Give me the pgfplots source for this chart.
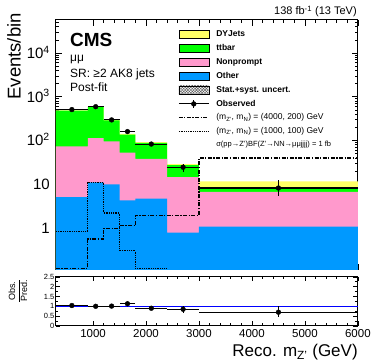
\documentclass[border=0pt]{standalone}
\usepackage{pgfplots}
\pgfplotsset{compat=1.18}
\usepackage{pgfplotstable}
\usepgfplotslibrary{fillbetween}
\usetikzlibrary{patterns.meta}
\usepackage{amsmath}
\usepackage{fontspec}
\setmainfont{Liberation Sans}

\definecolor{dyY}{RGB}{255,255,102}
\definecolor{ttG}{RGB}{0,255,0}
\definecolor{npP}{RGB}{255,153,204}
\definecolor{otB}{RGB}{0,153,255}

% stack tops (cumulative), bin low edges; last row repeats the last bin
\pgfplotstableread{
lo   other  nonpr  ttbar  dy    unclo  unchi
300  5.1    73     485    490   470    510
900  11     113    590    596   572    620
1200 10     95     288    292   280    304
1500 4.3    53     136    141   134    148
1800 4.7    38     88     92    87     97
2400 0.78   14.5   27.5   29    27.2   30.8
3000 1.07   6.7    8.6    11.7  10.4   13.2
6000 1.07   6.7    8.6    11.7  10.4   13.2
}\stack

\pgfplotstableread{
x    y     ex    eyp  eym
600  510   300   23   23
1050 593   150   24   24
1350 296   150   17   17
1650 160   150   13   13
2100 83    300   9    9
2700 24.5  300   5    5
4500 8.2   1500  4.1  2.9
}\obs

\pgfplotstableread{
x    r     ex    eyp   eym
600  1.04  300   0.05  0.05
1050 1.00  150   0.04  0.04
1350 1.01  150   0.06  0.06
1650 1.13  150   0.09  0.09
2100 0.90  300   0.10  0.10
2700 0.85  300   0.17  0.17
4500 0.70  1500  0.30  0.27
}\ratio

\pgfplotstableread{
x    lo     hi
300  0.96   1.04
900  0.96   1.04
1200 0.96   1.04
1500 0.95   1.05
1800 0.945  1.055
2400 0.94   1.06
3000 0.89   1.11
6000 0.89   1.11
}\rband

\pgfplotsset{
  legbox/.style={legend image code/.code={\fill[##1] (0pt,-4.25pt) rectangle (30pt,4.25pt);}},
  legline/.style={legend image code/.code={\draw[##1] (0pt,0pt) -- (30pt,0pt);}},
  legobs/.style={legend image code/.code={
      \draw[black, line width=1pt] (0pt,0pt) -- (30pt,0pt);
      \draw[black, line width=1pt] (15pt,-4pt) -- (15pt,4pt);
      \fill[black] (15pt,0pt) circle (2.4pt);}},
  dashdot/.style={dash pattern=on 4pt off 1.5pt on 1.2pt off 1.5pt},
  unc/.style={pattern={Hatch[angle=45, distance=2pt, line width=0.45pt]}, pattern color=black!65},
  cmsframe/.style={
    scale only axis, width=302pt,
    xmin=300, xmax=6000,
    axis line style={line width=1pt},
    every tick/.style={black, line width=0.7pt},
    xtick={1000,2000,3000,4000,5000,6000}, minor x tick num=4,
  },
}

\begin{document}
\begin{tikzpicture}

\begin{axis}[cmsframe,
  at={(56pt,-20pt)}, anchor=north west, height=250pt,
  ymode=log, log origin=infty, ymin=0.11, ymax=5.7e4,
  xticklabel=\empty,
  ytick={1,10,100,1000,10000},
  yticklabels={1,10,10\textsuperscript{2},10\textsuperscript{3},10\textsuperscript{4}},
  minor ytick={0.2,0.3,0.4,0.5,0.6,0.7,0.8,0.9,2,3,4,5,6,7,8,9,20,30,40,50,60,70,80,90,
    200,300,400,500,600,700,800,900,2000,3000,4000,5000,6000,7000,8000,9000,20000,30000,40000,50000},
  major tick length=6pt, minor tick length=3pt,
  yticklabel style={font=\fontsize{15}{15}\selectfont, anchor=base east, inner sep=0pt,
    xshift=-6pt, yshift=-5.4pt},
  ylabel={Events/bin},
  ylabel style={font=\fontsize{18.5}{18.5}\selectfont, at={(rel axis cs:-0.1159,1.028)},
    anchor=south east, inner sep=0pt},
  legend cell align=left,
  legend style={at={(rel axis cs:0.404,0.961)}, anchor=north west, draw=none, fill=none,
    inner sep=0pt, row sep=5pt, font=\fontsize{8.5}{9}\selectfont\bfseries,
    nodes={inner sep=0pt, text height=6.5pt, text depth=2pt},
    /tikz/every odd column/.append style={column sep=7pt}},
]
% stacked backgrounds, drawn from the total down
\addplot[const plot, fill=dyY, draw=none, forget plot] table[x=lo, y=dy] {\stack} \closedcycle;
\addplot[const plot, fill=ttG, draw=none, forget plot] table[x=lo, y=ttbar] {\stack} \closedcycle;
\addplot[const plot, fill=npP, draw=none, forget plot] table[x=lo, y=nonpr] {\stack} \closedcycle;
\addplot[const plot, fill=otB, draw=none, forget plot] table[x=lo, y=other] {\stack} \closedcycle;

% uncertainty band
\addplot[const plot, draw=none, name path=uup, forget plot] table[x=lo, y=unchi] {\stack};
\addplot[const plot, draw=none, name path=ulo, forget plot] table[x=lo, y=unclo] {\stack};
\addplot[unc, draw=none, forget plot] fill between[of=uup and ulo, on layer=main];

% signals
\addplot[const plot, black, line width=1.2pt, dashdot, forget plot] coordinates {
  (300,0.12) (900,0.56) (1200,0.99) (1500,1.13) (1800,1.97) (2400,1.97) (3000,40) (6000,40)};
\addplot[const plot, black, line width=1.2pt, dash pattern=on 1pt off 0.8pt, forget plot] coordinates {
  (300,0.82) (900,11) (1200,2.2) (1500,0.30) (1800,0.12) (2400,0.12)};

% data
\addplot[only marks, mark=*, mark size=2.4pt, black, forget plot,
  error bars/.cd, x dir=both, x explicit, y dir=both, y explicit, error mark=none,
  error bar style={line width=1.1pt, black}]
  table[x=x, y=y, x error=ex, y error plus=eyp, y error minus=eym] {\obs};

\addlegendimage{legbox, fill=dyY} \addlegendentry{DYJets}
\addlegendimage{legbox, fill=ttG} \addlegendentry{ttbar}
\addlegendimage{legbox, fill=npP} \addlegendentry{Nonprompt}
\addlegendimage{legbox, fill=otB} \addlegendentry{Other}
\addlegendimage{legbox, unc} \addlegendentry{Stat.+syst. uncert.}
\addlegendimage{legobs} \addlegendentry{Observed}
\addlegendimage{legline, black, line width=1.2pt, dashdot}
\addlegendentry{\mdseries (m\textsubscript{Z'}, m\textsubscript{N}) = (4000, 200) GeV}
\addlegendimage{legline, black, line width=1.2pt, dash pattern=on 1pt off 0.8pt}
\addlegendentry{\mdseries (m\textsubscript{Z'}, m\textsubscript{N}) = (1000, 100) GeV}
\addlegendimage{empty legend}
\addlegendentry{\mdseries\fontsize{7.5}{8}\selectfont σ(pp→Z')BF(Z'→NN→μμjjjj) = 1 fb}
\end{axis}

\begin{axis}[cmsframe,
  at={(56pt,-277pt)}, anchor=north west, height=49pt,
  ymin=0, ymax=2.5,
  xticklabels={1000,2000,3000,4000,5000,6000},
  ytick={0,0.5,1,1.5,2,2.5}, yticklabels={0,0.5,1,1.5,2,2.5}, minor y tick num=1,
  major tick length=4.5pt, minor tick length=2.5pt,
  xticklabel style={font=\fontsize{11.5}{11.5}\selectfont},
  yticklabel style={font=\fontsize{7.5}{7.5}\selectfont, inner sep=1.5pt},
  xlabel={Reco. m\textsubscript{Z'} (GeV)},
  xlabel style={font=\fontsize{17}{17}\selectfont, at={(rel axis cs:1,0)}, anchor=base east,
    yshift=-30.7pt, inner sep=0pt},
  ylabel={$\dfrac{\text{Obs.}}{\text{Pred.}}$},
  ylabel style={font=\fontsize{9}{9}\selectfont, at={(rel axis cs:-0.126,0.71)}, anchor=center},
]
\addplot[const plot, draw=none, name path=rup, forget plot] table[x=x, y=hi] {\rband};
\addplot[const plot, draw=none, name path=rlo, forget plot] table[x=x, y=lo] {\rband};
\addplot[unc, draw=none, forget plot] fill between[of=rup and rlo, on layer=main];
\addplot[blue, line width=1pt, forget plot] coordinates {(300,1) (6000,1)};
\addplot[only marks, mark=*, mark size=2.4pt, black, forget plot,
  error bars/.cd, x dir=both, x explicit, y dir=both, y explicit, error mark=none,
  error bar style={line width=1.1pt, black}]
  table[x=x, y=r, x error=ex, y error plus=eyp, y error minus=eym] {\ratio};
\end{axis}

\node[anchor=base west, inner sep=0pt, font=\fontsize{19}{19}\selectfont\bfseries] at (70pt,-46.7pt) {CMS};
\node[anchor=base west, inner sep=0pt, font=\fontsize{12}{12}\selectfont] at (70pt,-62pt) {μμ};
\node[anchor=base west, inner sep=0pt, font=\fontsize{12}{12}\selectfont] at (70pt,-78pt) {SR: ≥2 AK8 jets};
\node[anchor=base west, inner sep=0pt, font=\fontsize{12}{12}\selectfont] at (70pt,-91.7pt) {Post-fit};
\node[anchor=base east, inner sep=0pt, font=\fontsize{11}{11}\selectfont] at (357pt,-15pt) {138 fb\textsuperscript{-1} (13 TeV)};
\path (0pt,0pt) rectangle (374pt,-363pt);
\end{tikzpicture}
\end{document}
